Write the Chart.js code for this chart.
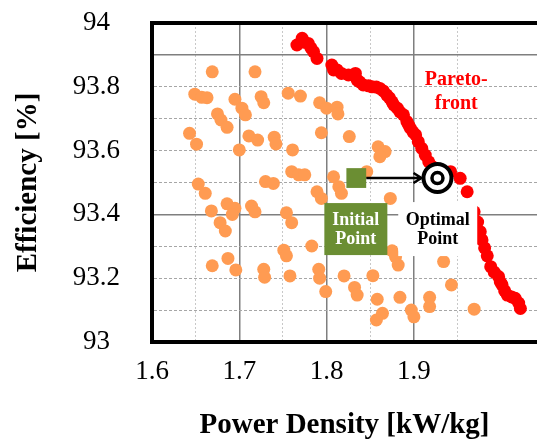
<!DOCTYPE html>
<html>
<head>
<meta charset="utf-8">
<script src="https://cdn.jsdelivr.net/npm/chart.js@4.4.0/dist/chart.umd.min.js"></script>
<style>
  html, body { margin: 0; padding: 0; background: #fff; }
</style>
</head>
<body>
<canvas id="pareto-chart" width="537" height="445"></canvas>
<script>
// all evaluated designs
const designPowerDensity = [
  1.669, 1.718, 1.649, 1.657, 1.663, 1.695, 1.703, 1.707, 1.725, 1.728,
  1.675, 1.679, 1.686, 1.643, 1.651, 1.700, 1.711, 1.721, 1.740, 1.742,
  1.653, 1.661, 1.730, 1.739, 1.756, 1.770, 1.792, 1.800, 1.812, 1.813,
  1.794, 1.826, 1.761, 1.859, 1.867, 1.861, 1.760, 1.768, 1.775, 1.808,
  1.846, 1.668, 1.686, 1.695, 1.692, 1.678, 1.684, 1.714, 1.718, 1.669,
  1.687, 1.696, 1.728, 1.729, 1.789, 1.794, 1.814, 1.817, 1.754, 1.760,
  1.873, 1.751, 1.754, 1.783, 1.758, 1.791, 1.792, 1.799, 1.820, 1.832,
  1.835, 1.853, 1.858, 1.864, 1.857, 1.875, 1.879, 1.884, 1.882, 1.934,
  1.943, 1.897, 1.900, 1.918, 1.918, 1.969
];
const designEfficiency = [
  93.847, 93.847, 93.777, 93.767, 93.766, 93.761, 93.733, 93.712, 93.769, 93.750,
  93.715, 93.696, 93.673, 93.654, 93.620, 93.602, 93.646, 93.633, 93.642, 93.621,
  93.495, 93.466, 93.503, 93.497, 93.780, 93.771, 93.750, 93.733, 93.736, 93.715,
  93.656, 93.644, 93.602, 93.612, 93.597, 93.581, 93.534, 93.524, 93.524, 93.518,
  93.534, 93.411, 93.433, 93.419, 93.400, 93.374, 93.348, 93.426, 93.408, 93.239,
  93.262, 93.226, 93.228, 93.203, 93.471, 93.450, 93.487, 93.466, 93.405, 93.374,
  93.450, 93.288, 93.270, 93.301, 93.207, 93.228, 93.200, 93.158, 93.207, 93.171,
  93.147, 93.208, 93.134, 93.090, 93.069, 93.286, 93.267, 93.140, 93.241, 93.252,
  93.179, 93.100, 93.079, 93.140, 93.111, 93.103
];

// pareto-optimal designs
const paretoPowerDensity = [
  1.772, 1.766, 1.774, 1.779, 1.782, 1.785, 1.789, 1.806, 1.808, 1.812,
  1.817, 1.825, 1.833, 1.835, 1.838, 1.842, 1.848, 1.852, 1.857, 1.861,
  1.865, 1.869, 1.872, 1.875, 1.877, 1.881, 1.884, 1.888, 1.892, 1.894,
  1.896, 1.899, 1.902, 1.905, 1.909, 1.913, 1.917, 1.921, 1.942, 1.953,
  1.961, 1.969, 1.973, 1.976, 1.978, 1.981, 1.984, 1.988, 1.992, 1.997,
  1.999, 2.001, 2.004, 2.007, 2.012, 2.016, 2.020, 2.022
];
const paretoEfficiency = [
  93.952, 93.931, 93.940, 93.936, 93.922, 93.910, 93.889, 93.868, 93.853, 93.853,
  93.842, 93.837, 93.842, 93.821, 93.815, 93.806, 93.803, 93.800, 93.799, 93.795,
  93.787, 93.774, 93.765, 93.753, 93.743, 93.733, 93.721, 93.712, 93.691, 93.680,
  93.670, 93.658, 93.649, 93.628, 93.607, 93.586, 93.565, 93.550, 93.534, 93.513,
  93.471, 93.408, 93.376, 93.346, 93.320, 93.295, 93.270, 93.236, 93.219, 93.205,
  93.188, 93.179, 93.160, 93.147, 93.141, 93.137, 93.122, 93.105
];

const initialPoint = [1.834, 93.514];
const optimalPoint = [1.927, 93.514];

const xTicks = [1.6, 1.7, 1.8, 1.9, 2];
const yTicks = [93, 93.2, 93.4, 93.6, 93.8, 94];

const toPoints = (xs, ys) => xs.map((x, i) => ({ x: x, y: ys[i] }));

const serif = "'Liberation Serif', 'Times New Roman', serif";

const annotationPlugin = {
  id: "annotations",
  afterDatasetsDraw(chart) {
    const { ctx, scales: { x, y } } = chart;
    ctx.save();

    // arrow from initial to optimal design
    const ay = y.getPixelForValue(initialPoint[1]);
    const ax1 = x.getPixelForValue(initialPoint[0]) + 10;
    const ax2 = x.getPixelForValue(optimalPoint[0]) - 16;
    ctx.strokeStyle = "#000";
    ctx.lineWidth = 2.5;
    ctx.beginPath();
    ctx.moveTo(ax1, ay);
    ctx.lineTo(ax2, ay);
    ctx.moveTo(ax2 - 8, ay - 5);
    ctx.lineTo(ax2, ay);
    ctx.lineTo(ax2 - 8, ay + 5);
    ctx.stroke();

    // callout boxes
    const boxes = [
      { cx: 1.8335, cy: 93.354, w: 63, h: 52, bg: "#6B8E33", fg: "#fff", lines: ["Initial", "Point"] },
      { cx: 1.9273, cy: 93.354, w: 79, h: 54, bg: "#fff", fg: "#000", lines: ["Optimal", "Point"] },
    ];
    ctx.textAlign = "center";
    ctx.textBaseline = "middle";
    ctx.font = "bold 18px " + serif;
    boxes.forEach((b) => {
      const px = x.getPixelForValue(b.cx);
      const py = y.getPixelForValue(b.cy);
      ctx.fillStyle = b.bg;
      ctx.fillRect(px - b.w / 2, py - b.h / 2, b.w, b.h);
      ctx.fillStyle = b.fg;
      ctx.fillText(b.lines[0], px, py - 9);
      ctx.fillText(b.lines[1], px, py + 10);
    });

    // pareto-front label
    const lx = x.getPixelForValue(1.9485);
    const ly = y.getPixelForValue(93.784);
    ctx.fillStyle = "#FF0000";
    ctx.font = "bold 20px " + serif;
    ctx.fillText("Pareto-", lx, ly - 12);
    ctx.fillText("front", lx, ly + 12);

    ctx.restore();
  },
};

const tenths = (v) => Math.round(v * 100);

const paretoConfig = {
  type: "scatter",
  data: {
    datasets: [
      {
        label: "Optimal (inner)",
        data: [{ x: optimalPoint[0], y: optimalPoint[1] }],
        pointRadius: 5.5,
        pointBorderWidth: 3.5,
        pointBorderColor: "#000",
        pointBackgroundColor: "#fff",
        order: 0,
      },
      {
        label: "Optimal",
        data: [{ x: optimalPoint[0], y: optimalPoint[1] }],
        pointRadius: 14,
        pointBorderWidth: 4,
        pointBorderColor: "#000",
        pointBackgroundColor: "#fff",
        order: 1,
      },
      {
        label: "Initial",
        data: [{ x: initialPoint[0], y: initialPoint[1] }],
        pointStyle: "rect",
        pointRadius: 14,
        pointBorderWidth: 0,
        pointBackgroundColor: "#6B8E33",
        order: 2,
      },
      {
        label: "Pareto-front",
        data: toPoints(paretoPowerDensity, paretoEfficiency),
        pointRadius: 6.5,
        pointBorderWidth: 0,
        pointBackgroundColor: "#FF0000",
        order: 3,
      },
      {
        label: "Designs",
        data: toPoints(designPowerDensity, designEfficiency),
        pointRadius: 6.5,
        pointBorderWidth: 0,
        pointBackgroundColor: "rgb(255, 155, 82)",
        order: 4,
      },
    ],
  },
  options: {
    responsive: false,
    animation: false,
    events: [],
    layout: {
      autoPadding: false,
      padding: { left: 0, right: 0, top: 23, bottom: 0 },
    },
    plugins: {
      legend: { display: false },
      tooltip: { enabled: false },
    },
    scales: {
      x: {
        type: "linear",
        min: 1.6,
        max: 2.041,
        afterBuildTicks: (scale) => {
          scale.ticks = scale.ticks.filter((t) => Math.abs(t.value * 20 - Math.round(t.value * 20)) < 1e-6);
        },
        afterFit: (scale) => {
          scale.height = 103;
          scale.paddingLeft = 0;
          scale.paddingRight = 0;
        },
        ticks: {
          stepSize: 0.05,
          autoSkip: false,
          maxRotation: 0,
          padding: 14,
          color: "#000",
          font: { family: serif, size: 27 },
          callback: (value) => {
            const v = Math.round(value * 10) / 10;
            return xTicks.some((t) => Math.abs(t - value) < 1e-6) ? String(v) : "";
          },
        },
        grid: {
          drawTicks: false,
          color: (ctx) => {
            if (!ctx.tick) return "transparent";
            const v = tenths(ctx.tick.value);
            if (v === 160) return "transparent";
            return v % 10 === 0 ? "#7F7F7F" : "#C8C8C8";
          },
          lineWidth: (ctx) => (ctx.tick && tenths(ctx.tick.value) % 10 === 0 ? 1.5 : 1),
        },
        border: {
          color: "#000",
          width: 4,
          dash: (ctx) => (ctx.tick && tenths(ctx.tick.value) % 10 !== 0 ? [2, 2] : []),
        },
        title: {
          display: true,
          text: "Power Density [kW/kg]",
          color: "#000",
          font: { family: serif, size: 29, weight: "bold" },
          padding: { top: 0, bottom: 2 },
        },
      },
      y: {
        type: "linear",
        min: 93,
        max: 94,
        afterFit: (scale) => {
          scale.width = 152;
          scale.paddingTop = 0;
          scale.paddingBottom = 0;
        },
        ticks: {
          stepSize: 0.1,
          autoSkip: false,
          crossAlign: "center",
          padding: 32,
          color: "#000",
          font: { family: serif, size: 27 },
          callback: (value) => {
            const v = Math.round(value * 10) / 10;
            return yTicks.some((t) => Math.abs(t - value) < 1e-6) ? String(v) : "";
          },
        },
        grid: {
          drawTicks: false,
          color: (ctx) => {
            if (!ctx.tick) return "transparent";
            const v = tenths(ctx.tick.value);
            if (v === 9400) return "#000";
            if (v === 9300) return "transparent";
            if (v === 9340 || v === 9390) return "#7F7F7F";
            return "#A6A6A6";
          },
          lineWidth: (ctx) => {
            if (!ctx.tick) return 1;
            const v = tenths(ctx.tick.value);
            if (v === 9400) return 4;
            if (v === 9340 || v === 9390) return 1.5;
            return 1;
          },
        },
        border: {
          color: "#000",
          width: 4,
          dash: (ctx) => {
            if (!ctx.tick) return [];
            const v = tenths(ctx.tick.value);
            return v === 9400 || v === 9340 || v === 9390 ? [] : [3, 2];
          },
        },
        title: {
          display: true,
          text: "Efficiency [%]",
          color: "#000",
          font: { family: serif, size: 29, weight: "bold" },
          padding: { top: 11, bottom: 0 },
        },
      },
    },
  },
  plugins: [annotationPlugin],
};

const paretoChart = new Chart(document.getElementById("pareto-chart"), paretoConfig);
</script>
</body>
</html>
